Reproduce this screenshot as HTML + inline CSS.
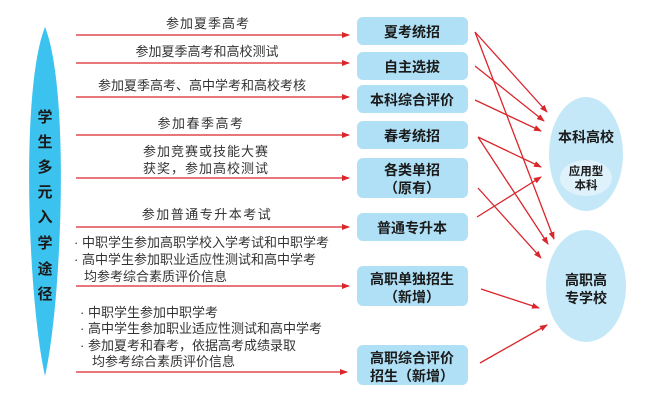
<!DOCTYPE html>
<html><head><meta charset="utf-8"><style>
html,body{margin:0;padding:0;background:#fff;}
svg text{font-family:"Liberation Sans","Noto Sans CJK SC",sans-serif;}
</style></head><body>
<svg width="662" height="405" viewBox="0 0 662 405" xmlns="http://www.w3.org/2000/svg">
<defs>
<marker id="a" markerWidth="8" markerHeight="6" refX="7" refY="3" orient="auto" markerUnits="userSpaceOnUse">
<path d="M0,0 L8,3 L0,6 Z" fill="#d9262b"/></marker>
</defs>
<path d="M45,27 C20,90 28,300 45,376 C62,300 70,90 45,27 Z" fill="#3cc2ee"/>
<g font-size="15" font-weight="bold" fill="#1a1a1a" text-anchor="middle">
<text x="45" y="122">学</text><text x="45" y="147">生</text><text x="45" y="172">多</text><text x="45" y="197">元</text>
<text x="45" y="222">入</text><text x="45" y="248">学</text><text x="45" y="274">途</text><text x="45" y="299">径</text>
</g>
<g stroke="#d9262b" stroke-width="1.3" marker-end="url(#a)">
<line x1="76" y1="35" x2="349" y2="35"/>
<line x1="76" y1="63" x2="349" y2="63"/>
<line x1="76" y1="97" x2="349" y2="97"/>
<line x1="76" y1="135" x2="349" y2="135"/>
<line x1="76" y1="178" x2="349" y2="178"/>
<line x1="76" y1="227" x2="349" y2="227"/>
<line x1="76" y1="286" x2="349" y2="286"/>
<line x1="76" y1="372" x2="347" y2="372"/>
</g>
<g font-size="13" fill="#333" text-anchor="middle">
<text x="208" y="28" letter-spacing="1">参加夏季高考</text>
<text x="207" y="56">参加夏季高考和高校测试</text>
<text x="202" y="90">参加夏季高考、高中学考和高校考核</text>
<text x="201" y="128" letter-spacing="1.5">参加春季高考</text>
<text x="206" y="156" letter-spacing="1">参加竞赛或技能大赛</text>
<text x="206" y="173" letter-spacing="1">获奖，参加高校测试</text>
<text x="207" y="219" letter-spacing="1.5">参加普通专升本考试</text>
</g>
<g font-size="13" fill="#333">
<text x="74" y="247">· 中职学生参加高职学校入学考试和中职学考</text>
<text x="74" y="264">· 高中学生参加职业适应性测试和高中学考</text>
<text x="84" y="281">均参考综合素质评价信息</text>
<text x="80" y="317">· 中职学生参加中职学考</text>
<text x="80" y="333">· 高中学生参加职业适应性测试和高中学考</text>
<text x="80" y="350">· 参加夏考和春考，依据高考成绩录取</text>
<text x="92" y="366">均参考综合素质评价信息</text>
</g>
<g fill="#afe0f6">
<rect x="357" y="17" width="111" height="28" rx="6"/>
<rect x="357" y="52" width="111" height="28" rx="6"/>
<rect x="357" y="85" width="111" height="28" rx="6"/>
<rect x="357" y="121" width="111" height="28" rx="6"/>
<rect x="357" y="158" width="111" height="40" rx="6"/>
<rect x="357" y="213" width="111" height="28" rx="6"/>
<rect x="357" y="266" width="111" height="40" rx="6"/>
<rect x="357" y="345" width="111" height="40" rx="6"/>
</g>
<g font-size="14" font-weight="bold" fill="#1a1a1a" text-anchor="middle">
<text x="412" y="37">夏考统招</text>
<text x="412" y="72">自主选拔</text>
<text x="412" y="105">本科综合评价</text>
<text x="412" y="141">春考统招</text>
<text x="412" y="175">各类单招</text>
<text x="412" y="193">（原有）</text>
<text x="412" y="233">普通专升本</text>
<text x="412" y="284">高职单独招生</text>
<text x="412" y="302">（新增）</text>
<text x="412" y="363">高职综合评价</text>
<text x="412" y="381">招生（新增）</text>
</g>
<ellipse cx="586" cy="154" rx="37" ry="57" fill="#c4e8f8"/>
<ellipse cx="586" cy="178" rx="26" ry="18" fill="#dff2fb"/>
<ellipse cx="586" cy="286" rx="40" ry="56" fill="#c4e8f8"/>
<g fill="#1a1a1a" text-anchor="middle" font-weight="bold">
<text x="586" y="142" font-size="14">本科高校</text>
<text x="586" y="175" font-size="11.5">应用型</text>
<text x="586" y="189" font-size="11.5">本科</text>
<text x="586" y="285" font-size="14">高职高</text>
<text x="586" y="303" font-size="14">专学校</text>
</g>
<g stroke="#d9262b" stroke-width="1.3" marker-end="url(#a)">
<line x1="475" y1="32" x2="547" y2="112"/>
<line x1="475" y1="32" x2="554" y2="239"/>
<line x1="475" y1="66" x2="544" y2="121"/>
<line x1="475" y1="100" x2="541" y2="131"/>
<line x1="478" y1="137" x2="541" y2="167"/>
<line x1="478" y1="137" x2="548" y2="244"/>
<line x1="478" y1="188" x2="541" y2="258"/>
<line x1="477" y1="217" x2="541" y2="177"/>
<line x1="481" y1="289" x2="539" y2="308"/>
<line x1="480" y1="363" x2="547" y2="325"/>
</g>
</svg>
</body></html>
